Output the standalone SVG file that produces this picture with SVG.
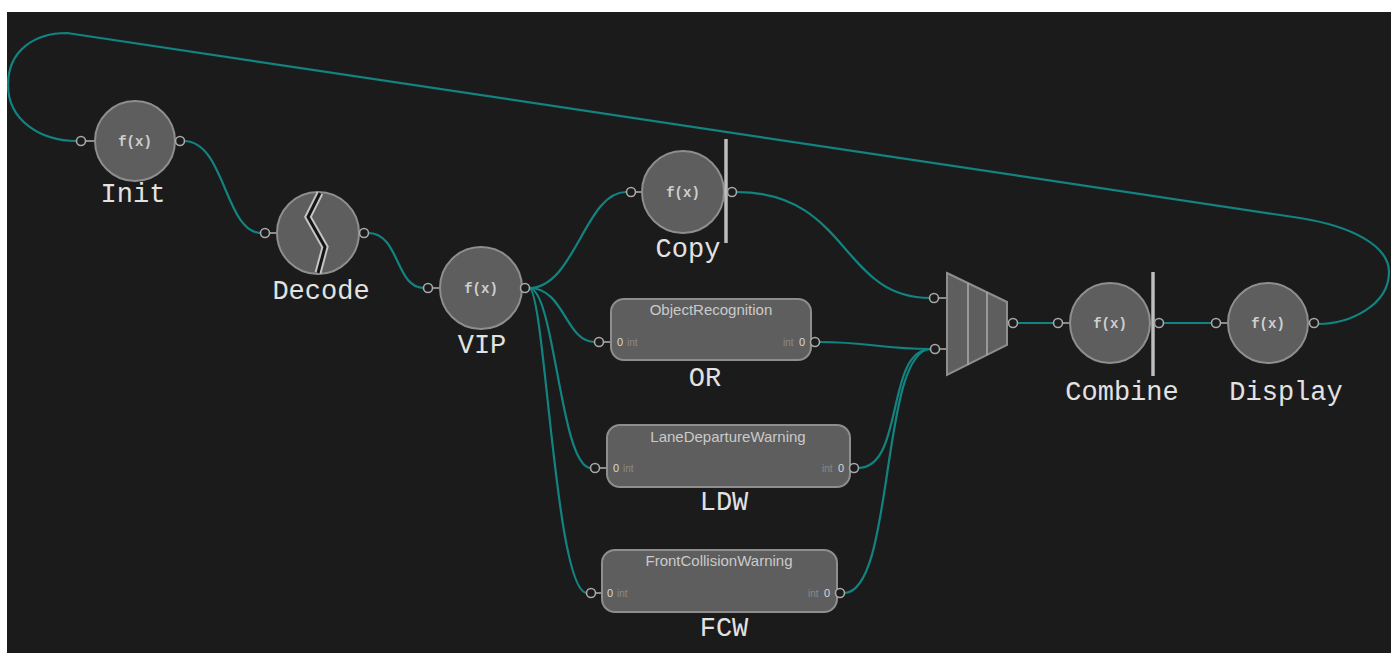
<svg xmlns="http://www.w3.org/2000/svg" width="1391" height="653" viewBox="0 0 1391 653">
<style>
.node{fill:#5e5e5e;stroke:#8e8e8e;stroke-width:2}
.port{fill:#1b1b1b;stroke:#a8a8a8;stroke-width:1.6}
.stub{stroke:#a8a8a8;stroke-width:1.6}
.fx{font-family:"Liberation Mono",monospace;font-size:14px;font-weight:bold;fill:#cfcfcf;text-anchor:middle}
.lbl{font-family:"Liberation Mono",monospace;font-size:27px;fill:#e2e2e2;text-anchor:middle}
.ttl{font-family:"Liberation Sans",Arial,sans-serif;font-size:15px;fill:#cacaca;text-anchor:middle}
.pn{font-family:"Liberation Sans",Arial,sans-serif;font-size:11px;fill:#d8d8d8}
.pt{font-family:"Liberation Sans",Arial,sans-serif;font-size:10px;fill:#8a8a8a}
.bar{stroke:#bdbdbd;stroke-width:3.5}
.wire{fill:none;stroke:#118481;stroke-width:2.2}
</style>
<rect x="0" y="0" width="1391" height="653" fill="#ffffff"/>
<rect x="7" y="12" width="1384" height="641" fill="#1b1b1b"/>

<g id="connectors">
<path class="wire" d="M77,141 C40,141 8,120 8,85 C8,50 35,33 67,33 L1300,218 C1350,226 1389,245 1389,272 C1389,305 1350,324 1318,324"/>
<path class="wire" d="M184,141 C225,141 225,233 261,233"/>
<path class="wire" d="M368,233 C400,233 395,288 424,288"/>
<path class="wire" d="M529,288 C575,288 585,192 626,192"/>
<path class="wire" d="M529,288 C565,288 565,342 595,342"/>
<path class="wire" d="M529,288 C555,288 560,468 591,468"/>
<path class="wire" d="M529,288 C545,288 555,593 587,593"/>
<path class="wire" d="M736,192 C850,192 840,298 930,298"/>
<path class="wire" d="M819,342 C870,342 880,349 931,349"/>
<path class="wire" d="M858,468 C905,468 885,349 931,349"/>
<path class="wire" d="M844,593 C895,593 880,349 931,349"/>
<path class="wire" d="M1017,323 L1054,323"/>
<path class="wire" d="M1163,323 L1212,323"/>
</g>

<g id="Init">
<line class="stub" x1="86" y1="141" x2="95" y2="141"/>
<line class="stub" x1="175" y1="141" x2="176" y2="141"/>
<circle class="node" cx="135" cy="141" r="40"/>
<circle class="port" cx="81" cy="141" r="4.5"/>
<circle class="port" cx="180" cy="141" r="4.5"/>
<text class="fx" x="135" y="146">f(x)</text>
<text class="lbl" x="133" y="202">Init</text>
</g>

<g id="Decode">
<line class="stub" x1="270" y1="233" x2="277" y2="233"/>
<circle class="node" cx="318" cy="233" r="41"/>
<polyline points="320,193 308,217 325,247 318,273" fill="none" stroke="#c4c4c4" stroke-width="7"/>
<polyline points="320,193 308,217 325,247 318,273" fill="none" stroke="#151515" stroke-width="3"/>
<circle class="port" cx="265" cy="233" r="4.5"/>
<circle class="port" cx="364" cy="233" r="4.5"/>
<text class="lbl" x="321" y="299">Decode</text>
</g>

<g id="VIP">
<line class="stub" x1="433" y1="288" x2="440" y2="288"/>
<circle class="node" cx="481" cy="288" r="41"/>
<circle class="port" cx="428" cy="288" r="4.5"/>
<circle class="port" cx="525" cy="288" r="4.5"/>
<text class="fx" x="481" y="293">f(x)</text>
<text class="lbl" x="482" y="353">VIP</text>
</g>

<g id="Copy">
<line class="stub" x1="635" y1="192" x2="642" y2="192"/>
<circle class="node" cx="683" cy="192" r="41"/>
<line class="bar" x1="726" y1="139" x2="726" y2="243"/>
<circle class="port" cx="631" cy="192" r="4.5"/>
<circle class="port" cx="732" cy="192" r="4.5"/>
<text class="fx" x="683" y="197">f(x)</text>
<text class="lbl" x="688" y="257">Copy</text>
</g>

<g id="OR">
<line class="stub" x1="604" y1="342" x2="612" y2="342"/>
<rect class="node" x="611" y="299" width="200" height="61" rx="13"/>
<circle class="port" cx="599" cy="342" r="4.5"/>
<circle class="port" cx="815" cy="342" r="4.5"/>
<text class="ttl" x="711" y="315">ObjectRecognition</text>
<text class="pn" x="617" y="346">0</text><text class="pt" x="627" y="346">int</text>
<text class="pt" x="783" y="346">int</text><text class="pn" x="799" y="346">0</text>
<text class="lbl" x="705" y="386">OR</text>
</g>

<g id="LDW">
<line class="stub" x1="600" y1="468" x2="608" y2="468"/>
<rect class="node" x="607" y="425" width="243" height="62" rx="13"/>
<circle class="port" cx="595" cy="468" r="4.5"/>
<circle class="port" cx="854" cy="468" r="4.5"/>
<text class="ttl" x="728" y="442">LaneDepartureWarning</text>
<text class="pn" x="613" y="472">0</text><text class="pt" x="623" y="472">int</text>
<text class="pt" x="822" y="472">int</text><text class="pn" x="838" y="472">0</text>
<text class="lbl" x="724" y="510">LDW</text>
</g>

<g id="FCW">
<line class="stub" x1="596" y1="593" x2="603" y2="593"/>
<rect class="node" x="602" y="550" width="235" height="62" rx="13"/>
<circle class="port" cx="591" cy="593" r="4.5"/>
<circle class="port" cx="840" cy="593" r="4.5"/>
<text class="ttl" x="719" y="566">FrontCollisionWarning</text>
<text class="pn" x="607" y="597">0</text><text class="pt" x="617" y="597">int</text>
<text class="pt" x="808" y="597">int</text><text class="pn" x="824" y="597">0</text>
<text class="lbl" x="724" y="636">FCW</text>
</g>

<g id="Merge">
<line class="stub" x1="939" y1="298" x2="947" y2="298"/>
<line class="stub" x1="940" y1="349" x2="947" y2="349"/>
<line class="stub" x1="1007" y1="323" x2="1009" y2="323"/>
<polygon class="node" points="947,273 1007,302 1007,345 947,375"/>
<line class="stub" x1="968" y1="283" x2="968" y2="365"/>
<line class="stub" x1="987" y1="292" x2="987" y2="355"/>
<circle class="port" cx="934" cy="298" r="4.5"/>
<circle class="port" cx="935" cy="349" r="4.5"/>
<circle class="port" cx="1013" cy="323" r="4.5"/>
</g>

<g id="Combine">
<line class="stub" x1="1063" y1="323" x2="1070" y2="323"/>
<circle class="node" cx="1110" cy="323" r="40"/>
<line class="bar" x1="1153" y1="272" x2="1153" y2="376"/>
<circle class="port" cx="1058" cy="323" r="4.5"/>
<circle class="port" cx="1159" cy="323" r="4.5"/>
<text class="fx" x="1110" y="328">f(x)</text>
<text class="lbl" x="1122" y="400">Combine</text>
</g>

<g id="Display">
<line class="stub" x1="1221" y1="323" x2="1228" y2="323"/>
<circle class="node" cx="1268" cy="323" r="40"/>
<circle class="port" cx="1216" cy="323" r="4.5"/>
<circle class="port" cx="1314" cy="323" r="4.5"/>
<text class="fx" x="1268" y="328">f(x)</text>
<text class="lbl" x="1286" y="400">Display</text>
</g>
</svg>
